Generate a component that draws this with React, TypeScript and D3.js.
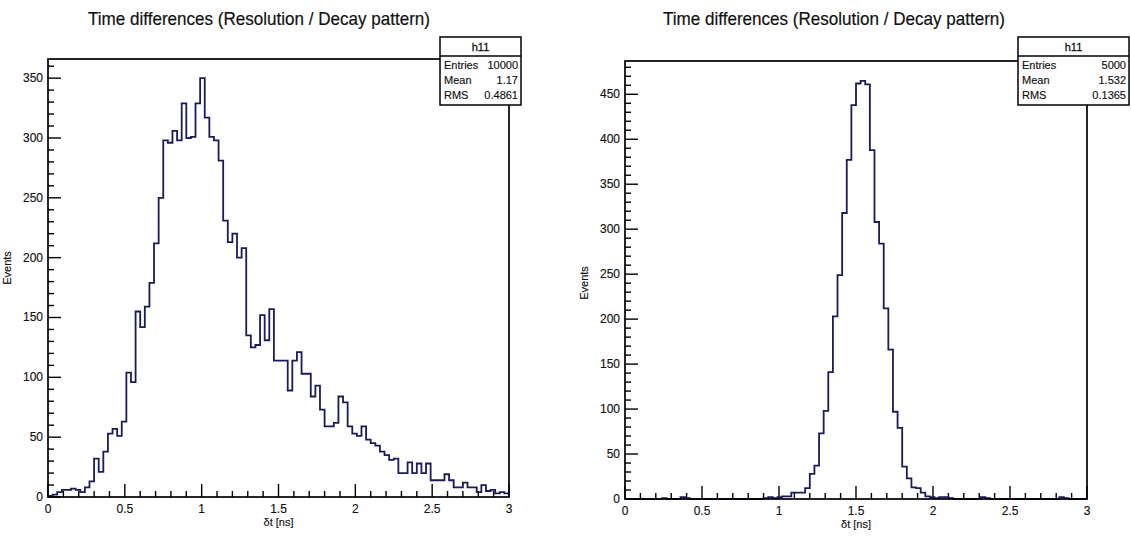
import React from "react";
import * as d3 from "d3";

// bin contents (100 bins on 0..3 ns)
const leftCounts = [
  1, 2, 4, 6, 6, 7, 6, 4, 8, 13,
  32, 21, 38, 53, 57, 51, 63, 104, 96, 155,
  142, 159, 179, 212, 250, 298, 296, 306, 298, 329,
  300, 301, 329, 350, 317, 301, 298, 281, 231, 213,
  220, 200, 208, 135, 125, 127, 152, 131, 157, 114,
  114, 114, 89, 114, 121, 103, 103, 84, 93, 73,
  59, 59, 62, 84, 79, 59, 53, 51, 59, 48,
  45, 43, 38, 35, 31, 32, 20, 20, 29, 20,
  28, 20, 28, 14, 14, 14, 19, 14, 8, 8,
  12, 8, 8, 4, 10, 5, 6, 3, 4, 3,
];

const rightCounts = [
  0, 0, 0, 0, 0, 0, 0, 0, 1, 0,
  0, 0, 2, 1, 0, 0, 0, 0, 0, 0,
  0, 0, 0, 0, 0, 0, 0, 0, 0, 0,
  1, 2, 1, 2, 3, 3, 7, 7, 7, 12,
  28, 37, 73, 98, 141, 203, 249, 318, 377, 438,
  462, 465, 461, 388, 308, 284, 212, 166, 97, 79,
  36, 23, 13, 12, 7, 3, 2, 1, 2, 2,
  1, 0, 0, 0, 0, 0, 0, 2, 1, 0,
  0, 0, 0, 0, 0, 0, 0, 0, 0, 0,
  0, 0, 0, 0, 2, 1, 0, 0, 0, 0,
];

const xTicks = [0, 0.5, 1, 1.5, 2, 2.5, 3];
const xTickLabels = ["0", "0.5", "1", "1.5", "2", "2.5", "3"];
const leftYTicks = [0, 50, 100, 150, 200, 250, 300, 350];
const rightYTicks = [0, 50, 100, 150, 200, 250, 300, 350, 400, 450];
const statLabels = ["Entries", "Mean", "RMS"];
const leftStats = ["10000", "1.17", "0.4861"];
const rightStats = ["5000", "1.532", "0.1365"];
const histName = "h11";
const titleText = "Time differences (Resolution / Decay pattern)";
const xTitle = "\u03b4t [ns]";
const yTitle = "Events";

const FONT = "'Liberation Sans Narrow', 'Arial Narrow', 'Liberation Sans', Arial, sans-serif";
const LINE = "#1b1b5a";
const INK = "#111";

interface Frame { left: number; right: number; top: number; bottom: number }
interface BoxPos { x: number; w: number }

interface PanelProps {
  counts: number[];
  yMax: number;
  yTicks: number[];
  stats: string[];
  frame: Frame;
  titleX: number;
  box: BoxPos;
  yTitleY: number;
}

function Panel({ counts, yMax, yTicks, stats, frame, titleX, box, yTitleY }: PanelProps) {
  const x = d3.scaleLinear().domain([0, 3]).range([frame.left, frame.right]);
  const y = d3.scaleLinear().domain([0, yMax]).range([frame.bottom, frame.top]);
  const bw = 3 / counts.length;

  const pts: [number, number][] = [[0, 0]];
  counts.forEach((c, i) => pts.push([i * bw, c]));
  pts.push([3, counts[counts.length - 1]]);
  pts.push([3, 0]);
  const path = d3.line<[number, number]>()
    .x(d => x(d[0]))
    .y(d => y(d[1]))
    .curve(d3.curveStepAfter)(pts);

  const minorX = d3.range(0, 31).map(i => i / 10);
  const minorY = d3.range(0, yMax, 10);

  const boxTop = 37;
  const rows = [69, 84, 99];
  const txt = { fontFamily: FONT, fill: INK, stroke: INK, strokeWidth: 0.15 };

  return (
    <g>
      <text x={titleX} y={25} fontSize={19} {...txt} strokeWidth={0.2} textAnchor="middle"
        textLength={342} lengthAdjust="spacingAndGlyphs">{titleText}</text>

      {/* ticks */}
      {minorX.map((v, i) => {
        const major = i % 5 === 0;
        return <line key={"xt" + i} x1={x(v)} x2={x(v)} y1={frame.bottom} y2={frame.bottom - (major ? 13 : 6)}
          stroke="#000" strokeWidth={1.4} />;
      })}
      {minorY.map((v, i) => {
        const major = i % 5 === 0;
        return <line key={"yt" + i} x1={frame.left} x2={frame.left + (major ? 13 : 6)} y1={y(v)} y2={y(v)}
          stroke="#000" strokeWidth={1.4} />;
      })}

      <path d={path ?? ""} fill="none" stroke={LINE} strokeWidth={1.8} />

      {/* frame */}
      <rect x={frame.left} y={frame.top} width={frame.right - frame.left} height={frame.bottom - frame.top}
        fill="none" stroke="#000" strokeWidth={1.7} />

      {xTicks.map((v, i) => (
        <text key={"xl" + i} x={x(v)} y={frame.bottom + 16} fontSize={12} {...txt}
          textAnchor="middle">{xTickLabels[i]}</text>
      ))}
      {yTicks.map(v => (
        <text key={"yl" + v} x={frame.left - 5} y={y(v) + 4} fontSize={12} {...txt}
          textAnchor="end">{v}</text>
      ))}

      <text x={(frame.left + frame.right) / 2} y={frame.bottom + 29} fontSize={11} {...txt}
        textAnchor="middle">{xTitle}</text>
      <text transform={`translate(${frame.left - 37},${yTitleY}) rotate(-90)`} fontSize={11} {...txt}
        textAnchor="middle">{yTitle}</text>

      {/* stats box */}
      <rect x={box.x} y={boxTop} width={box.w} height={rows[2] + 6 - boxTop} fill="#fff" stroke="#000" strokeWidth={1.5} />
      <line x1={box.x} x2={box.x + box.w} y1={56} y2={56} stroke="#000" strokeWidth={1.5} />
      <text x={box.x + box.w / 2} y={51} fontSize={11} {...txt} strokeWidth={0.3} textAnchor="middle">{histName}</text>
      {statLabels.map((s, i) => (
        <g key={s}>
          <text x={box.x + 4} y={rows[i]} fontSize={11} {...txt}>{s}</text>
          <text x={box.x + box.w - 3} y={rows[i]} fontSize={11} {...txt} textAnchor="end">{stats[i]}</text>
        </g>
      ))}
    </g>
  );
}

export default function App() {
  return (
    <svg width={1131} height={539} style={{ position: "absolute", left: 0, top: 0, background: "#fff" }}>
      <rect width={1131} height={539} fill="#fff" />
      <Panel counts={leftCounts} yMax={366} yTicks={leftYTicks} stats={leftStats}
        frame={{ left: 48, right: 509, top: 59, bottom: 497 }} titleX={259}
        box={{ x: 440, w: 81 }} yTitleY={268} />
      <Panel counts={rightCounts} yMax={487} yTicks={rightYTicks} stats={rightStats}
        frame={{ left: 625, right: 1087, top: 61, bottom: 499 }} titleX={834}
        box={{ x: 1018, w: 111 }} yTitleY={283} />
    </svg>
  );
}
